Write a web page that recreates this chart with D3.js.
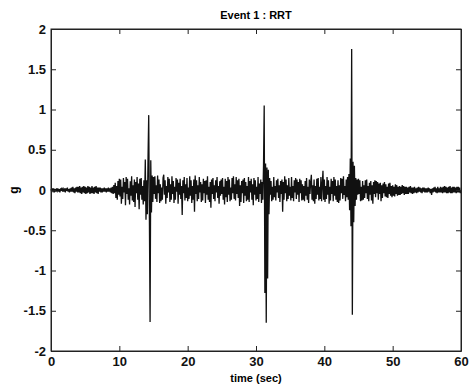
<!DOCTYPE html>
<html>
<head>
<meta charset="utf-8">
<script src="https://cdn.jsdelivr.net/npm/d3@7"></script>
<style>
  body { margin: 0; background: #fff; }
  text { font-family: "Liberation Sans", Arial, sans-serif; }
</style>
</head>
<body>
<script>
const title = "Event 1 : RRT"
const xLabel = "time (sec)"
const yLabel = "g"
const xTicks = [0, 10, 20, 30, 40, 50, 60]
const yTicks = [-2, -1.5, -1, -0.5, 0, 0.5, 1, 1.5, 2]
const sampleStep = 0.1  // seconds between samples

// acceleration in g, one row per second
const accel = [
  .01,-.02,.02,-.01,.02,-.03,.01,-.02,.02,-.01,
  .02,-.02,.01,-.03,.02,-.01,.03,-.02,.01,-.02,
  .02,-.03,.02,-.01,.03,-.02,.01,-.03,.02,-.02,
  .03,-.02,.04,-.03,.02,-.04,.03,-.02,.04,-.03,
  .04,-.03,.05,-.04,.03,-.05,.04,-.03,.05,-.04,
  .04,-.05,.03,-.04,.05,-.03,.04,-.05,.03,-.04,
  .05,-.04,.03,-.05,.04,-.03,.05,-.04,.03,-.05,
  .03,-.02,.03,-.03,.02,-.03,.02,-.02,.03,-.02,
  .02,-.03,.02,-.02,.03,-.02,.02,-.03,.03,-.04,
  .04,-.05,.06,-.04,.09,-.10,.05,-.12,.11,-.06,
  .14,-.08,.13,-.17,.04,-.11,.15,-.03,.10,-.19,
  .16,-.05,.14,-.12,.02,-.18,.11,-.07,.17,-.13,
  .06,-.15,.13,-.21,.10,-.04,.16,-.12,.08,-.24,
  .14,-.06,.15,-.12,.05,-.18,.12,-.14,.38,-.37,
  .12,-.30,.40,.93,-.35,-1.64,.37,-.28,.18,-.15,
  .16,-.05,.17,-.11,.06,-.15,.18,-.04,.13,-.16,
  .07,-.14,.03,-.12,.15,.19,-.06,.12,-.17,.05,
  -.10,.16,-.03,.14,-.15,.07,-.12,.17,-.05,.11,
  -.16,.04,-.12,.15,-.02,.13,-.17,.09,-.06,.14,
  -.11,.05,-.31,.12,-.04,.16,-.13,.07,-.10,.15,
  -.14,.03,-.11,.17,-.07,.12,-.16,.05,-.12,.13,
  -.27,.18,-.05,.12,-.14,.06,-.11,.16,-.03,.10,
  -.15,.07,-.13,.14,-.04,.11,-.16,.12,-.06,.17,
  -.12,.04,-.15,.10,-.22,.13,-.05,.15,-.11,.06,
  -.14,.12,-.03,.16,-.10,.05,-.17,.11,-.07,.13,
  -.05,.15,-.12,.04,-.18,.14,-.09,.11,-.15,.16,
  -.06,.13,-.14,.03,-.12,.15,-.04,.17,-.11,.07,
  -.13,.16,-.05,.12,-.10,.14,-.20,.06,-.15,.11,
  -.04,.13,-.16,.15,-.07,.10,-.14,.05,-.12,.16,
  -.15,.11,-.03,.14,-.12,.07,-.19,.15,-.06,.12,
  -.13,.04,-.11,.16,-.15,.08,-.05,.13,-.16,.10,
  -.12,.30,1.05,-1.28,.33,-1.65,.28,-1.10,.25,-.30,
  .15,-.06,.11,-.14,.04,-.12,.16,-.09,.05,-.13,
  .12,-.03,.14,-.10,.06,-.15,.11,-.05,.13,-.27,
  .10,-.12,.17,-.04,.13,-.14,.06,-.11,.15,-.07,
  .04,-.13,.16,-.10,.05,-.14,.12,-.03,.15,-.11,
  .13,-.06,.10,-.15,.14,-.04,.12,-.13,.07,-.12,
  .05,-.14,.11,-.07,.15,-.12,.04,-.16,.13,-.05,
  .10,.19,-.12,.06,-.14,.13,-.17,.05,-.11,.14,
  -.06,.15,-.13,.04,-.11,.16,-.14,.07,.24,-.12,
  .13,-.15,.05,-.11,.16,-.06,.12,-.17,.04,-.13,
  .14,-.05,.11,-.14,.16,-.07,.13,-.12,.05,-.15,
  .12,-.16,.06,-.13,.15,-.04,.14,-.11,.17,-.06,
  .05,-.14,.13,-.09,.16,-.12,.20,-.25,.39,-.45,
  1.75,-1.55,.35,-.40,.30,-.20,.15,-.12,.13,-.06,
  .14,-.05,.12,-.14,.04,-.13,.11,-.12,.06,-.10,
  .12,-.04,.13,-.11,.05,-.14,.09,-.06,.11,-.13,
  .06,-.17,.10,-.05,.12,-.09,.11,-.04,.10,-.12,
  .08,-.05,.09,-.14,.06,-.10,.08,-.04,.10,-.08,
  .07,-.09,.04,-.10,.08,-.05,.09,-.07,.05,-.09,
  .06,-.07,.04,-.08,.07,-.05,.06,-.07,.04,-.06,
  .05,-.06,.04,-.05,.06,-.04,.05,-.06,.04,-.05,
  .04,-.05,.03,-.05,.04,-.03,.05,-.04,.03,-.05,
  .03,-.04,.04,-.03,.02,-.04,.03,-.03,.04,-.02,
  .03,-.03,.02,-.04,.03,-.02,.03,-.03,.02,-.03,
  .02,-.03,.03,-.02,.02,-.04,.01,-.06,.02,-.03,
  .03,-.02,.04,-.03,.02,-.04,.04,-.03,.02,-.03,
  .04,-.03,.03,-.04,.04,-.03,.05,-.03,.04,-.04,
  .03,-.04,.04,-.03,.05,-.04,.03,-.04,.04,-.03,
  .04,-.03,.03,-.04,.04,-.03,.04,-.03,.03,-.04,
  0
]

const W = 469, H = 390
const margin = {top: 29, left: 51, bottom: 39, right: 8}
const tickLen = 5

const svg = d3.select('body').append('svg')
  .attr('width', W).attr('height', H)

const x = d3.scaleLinear().domain([0, 60]).range([margin.left, W - margin.right])
const y = d3.scaleLinear().domain([-2, 2]).range([H - margin.bottom, margin.top])

// signal
const line = d3.line()
  .x((d, i) => x(i * sampleStep))
  .y(d => y(d))

svg.append('path')
  .datum(accel)
  .attr('d', line)
  .attr('fill', 'none')
  .attr('stroke', '#111')
  .attr('stroke-width', 1.3)
  .attr('stroke-linejoin', 'miter')

// axes with inward ticks on all four sides (matlab style)
const fmt = d => String(d)
const axisFont = g => {
  g.attr('font-family', '"Liberation Sans", Arial, sans-serif')
   .attr('font-size', 13).attr('font-weight', 'bold')
  g.selectAll('text').attr('fill', '#111')
}

svg.append('g')
  .attr('transform', `translate(0,${H - margin.bottom})`)
  .call(d3.axisBottom(x).tickValues(xTicks).tickFormat(fmt).tickSizeInner(-tickLen).tickSizeOuter(0).tickPadding(6))
  .call(axisFont)

svg.append('g')
  .attr('transform', `translate(${margin.left},0)`)
  .call(d3.axisLeft(y).tickValues(yTicks).tickFormat(fmt).tickSizeInner(-tickLen).tickSizeOuter(0).tickPadding(5))
  .call(axisFont)

svg.append('g')
  .attr('transform', `translate(0,${margin.top})`)
  .call(d3.axisTop(x).tickValues(xTicks).tickFormat('').tickSizeInner(-tickLen).tickSizeOuter(0))

svg.append('g')
  .attr('transform', `translate(${W - margin.right},0)`)
  .call(d3.axisRight(y).tickValues(yTicks).tickFormat('').tickSizeInner(-tickLen).tickSizeOuter(0))

svg.selectAll('.domain').attr('stroke', '#222')
svg.selectAll('.tick line').attr('stroke', '#222')

// frame
svg.append('rect')
  .attr('x', margin.left).attr('y', margin.top)
  .attr('width', W - margin.left - margin.right)
  .attr('height', H - margin.top - margin.bottom)
  .attr('fill', 'none').attr('stroke', '#222')

svg.append('text')
  .attr('x', (margin.left + W - margin.right) / 2).attr('y', 19)
  .attr('text-anchor', 'middle')
  .style('font-size', '11px').style('font-weight', 'bold')
  .text(title)

svg.append('text')
  .attr('x', (margin.left + W - margin.right) / 2).attr('y', 382)
  .attr('text-anchor', 'middle')
  .style('font-size', '11px').style('font-weight', 'bold')
  .text(xLabel)

svg.append('text')
  .attr('transform', `translate(18,${y(0)}) rotate(-90)`)
  .attr('text-anchor', 'middle')
  .style('font-size', '12px').style('font-weight', 'bold')
  .text(yLabel)
</script>
</body>
</html>
